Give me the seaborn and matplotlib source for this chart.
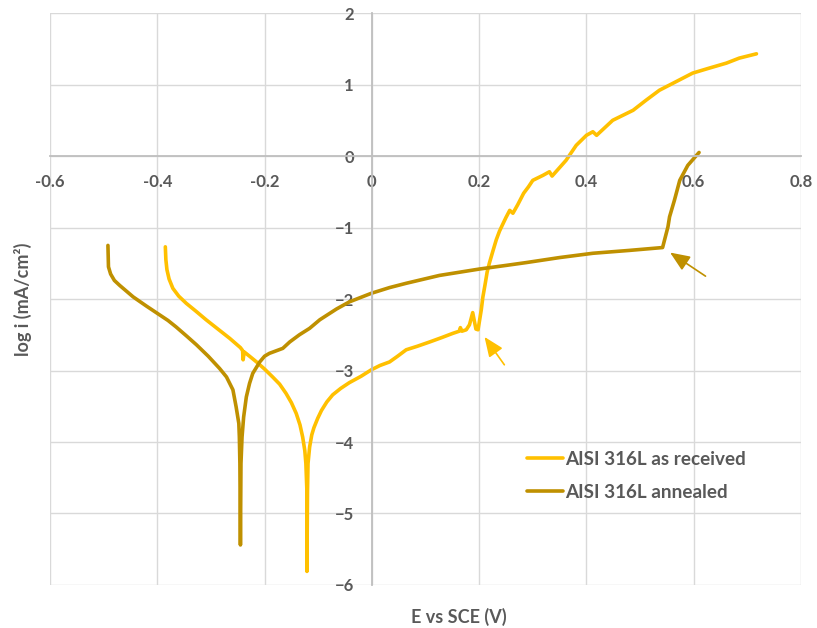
import pandas as pd
import numpy as np
import matplotlib.pyplot as plt
import seaborn as sns

# polarisation curves (E vs SCE in V, log i in mA/cm2)
received_E = [-0.385, -0.384, -0.382, -0.378, -0.371, -0.360, -0.346, -0.328, -0.309, -0.287,
              -0.265, -0.245, -0.241, -0.240, -0.238, -0.228, -0.215, -0.200, -0.185, -0.172,
              -0.160, -0.150, -0.141, -0.134, -0.129, -0.125, -0.123, -0.121, -0.121, -0.120,
              -0.119, -0.116, -0.112, -0.108, -0.101, -0.094, -0.084, -0.073, -0.058, -0.042,
              -0.020, -0.001, 0.015, 0.033, 0.048, 0.064, 0.085, 0.108, 0.130, 0.151,
              0.163, 0.165, 0.168, 0.176, 0.182, 0.188, 0.194, 0.198, 0.204, 0.207,
              0.211, 0.215, 0.219, 0.226, 0.232, 0.238, 0.243, 0.250, 0.257, 0.263,
              0.272, 0.283, 0.292, 0.300, 0.319, 0.331, 0.336, 0.362, 0.381, 0.400,
              0.412, 0.419, 0.449, 0.487, 0.511, 0.536, 0.567, 0.598, 0.629, 0.661,
              0.685, 0.717]
received_logi = [-1.27, -1.45, -1.59, -1.72, -1.85, -1.96, -2.06, -2.17, -2.29, -2.42,
                 -2.55, -2.68, -2.72, -2.85, -2.74, -2.80, -2.88, -2.98, -3.09, -3.19,
                 -3.32, -3.45, -3.60, -3.76, -3.93, -4.12, -4.30, -4.70, -5.81, -4.70,
                 -4.30, -4.07, -3.90, -3.80, -3.67, -3.56, -3.44, -3.34, -3.25, -3.17,
                 -3.08, -2.99, -2.93, -2.88, -2.80, -2.71, -2.66, -2.60, -2.54, -2.48,
                 -2.45, -2.40, -2.45, -2.43, -2.36, -2.19, -2.42, -2.43, -2.15, -1.97,
                 -1.80, -1.62, -1.50, -1.32, -1.17, -1.05, -0.97, -0.86, -0.76, -0.80,
                 -0.68, -0.52, -0.43, -0.34, -0.27, -0.22, -0.28, -0.06, 0.15, 0.29,
                 0.34, 0.29, 0.50, 0.64, 0.78, 0.92, 1.04, 1.16, 1.23, 1.30,
                 1.37, 1.43]

annealed_E = [-0.492, -0.491, -0.487, -0.480, -0.470, -0.445, -0.420, -0.400, -0.380, -0.365,
              -0.345, -0.327, -0.305, -0.284, -0.271, -0.259, -0.253, -0.248, -0.247, -0.246,
              -0.245, -0.244, -0.242, -0.239, -0.234, -0.228, -0.222, -0.209, -0.200, -0.191,
              -0.166, -0.153, -0.135, -0.116, -0.097, -0.066, -0.042, -0.001, 0.033, 0.064,
              0.126, 0.201, 0.250, 0.288, 0.350, 0.412, 0.480, 0.542, 0.552, 0.555,
              0.564, 0.574, 0.589, 0.610]
annealed_logi = [-1.25, -1.55, -1.65, -1.74, -1.81, -1.97, -2.10, -2.20, -2.30, -2.39,
                 -2.52, -2.64, -2.80, -2.97, -3.09, -3.27, -3.51, -3.74, -3.93, -4.30,
                 -5.44, -4.30, -3.93, -3.65, -3.37, -3.18, -3.04, -2.88, -2.80, -2.76,
                 -2.69, -2.60, -2.50, -2.41, -2.29, -2.14, -2.04, -1.92, -1.84, -1.78,
                 -1.67, -1.58, -1.53, -1.49, -1.42, -1.36, -1.32, -1.28, -0.99, -0.85,
                 -0.62, -0.34, -0.13, 0.05]

labels = ['AISI 316L as received', 'AISI 316L annealed']
colors = ['#FFC000', '#BF9000']
x_ticks = [-0.6, -0.4, -0.2, 0, 0.2, 0.4, 0.6, 0.8]
y_ticks = [-6, -5, -4, -3, -2, -1, 0, 1, 2]

df = pd.concat([
    pd.DataFrame({'E': received_E, 'logi': received_logi, 'sample': labels[0]}),
    pd.DataFrame({'E': annealed_E, 'logi': annealed_logi, 'sample': labels[1]}),
], ignore_index=True)

sns.set_theme(style='white')
plt.rcParams['font.family'] = ['Lato', 'DejaVu Sans']
txt = '#595959'
wt = 'bold'

fig = plt.figure(figsize=(8.17, 6.28), dpi=100)
ax = fig.add_axes([0.0612, 0.0685, 0.9192, 0.9107])

sns.lineplot(data=df, x='E', y='logi', hue='sample', palette=colors, sort=False,
             estimator=None, lw=2.6, ax=ax)

ax.set_xlim(-0.6, 0.8)
ax.set_ylim(-6, 2)
ax.set_xticks(x_ticks)
ax.set_yticks(y_ticks)
ax.set_xticklabels(['0' if v == 0 else f'{v:g}' for v in x_ticks])
ax.grid(True, color='#D9D9D9', lw=1)
ax.set_axisbelow(True)

for s in ['top', 'right']:
    ax.spines[s].set_visible(False)
ax.spines['bottom'].set_position(('data', 0))
ax.spines['left'].set_position(('data', 0))
for s in ['bottom', 'left']:
    ax.spines[s].set_color('#BFBFBF')
    ax.spines[s].set_linewidth(1.3)
ax.tick_params(length=0, labelsize=12, labelcolor=txt, pad=13)
plt.setp(ax.get_xticklabels() + ax.get_yticklabels(), fontweight=wt)

ax.set_xlabel('E vs SCE (V)', fontsize=13, color=txt, fontweight=wt)
ax.set_ylabel('log i (mA/cm²)', fontsize=13, color=txt, fontweight=wt)
ax.xaxis.set_label_coords(0.545, -0.040)
ax.yaxis.set_label_coords(-0.024, 0.5)

# arrows marking the pitting potentials
ax.annotate('', xy=(0.210, -2.53), xytext=(0.247, -2.92),
            arrowprops=dict(arrowstyle='-|>,head_length=0.6,head_width=0.25', color=colors[0],
                            lw=1.2, mutation_scale=20, shrinkA=0, shrinkB=0))
ax.annotate('', xy=(0.556, -1.35), xytext=(0.622, -1.68),
            arrowprops=dict(arrowstyle='-|>,head_length=0.6,head_width=0.25', color=colors[1],
                            lw=1.2, mutation_scale=20, shrinkA=0, shrinkB=0))

h, l = ax.get_legend_handles_labels()
ax.legend(h, l, loc='upper left', bbox_to_anchor=(0.635, 0.2345), frameon=False,
          prop={'size': 13.6, 'weight': wt}, labelcolor=txt, handlelength=1.9,
          handletextpad=0.1, labelspacing=0.85, borderpad=0, borderaxespad=0)

fig.savefig('out.png', dpi=100)
